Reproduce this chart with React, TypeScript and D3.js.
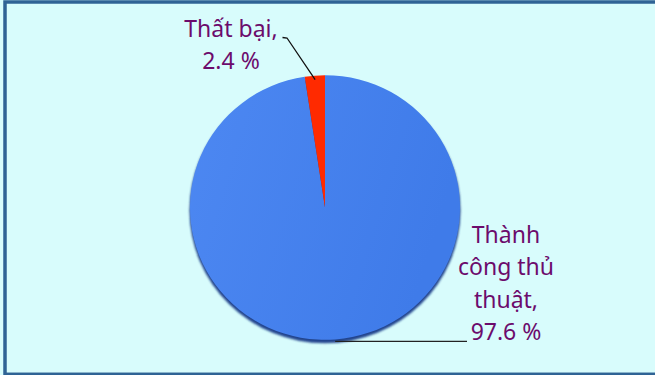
import React from "react";
import * as d3 from "d3";

const categories = ["Thành công thủ thuật", "Thất bại"];
const values = [97.6, 2.4];
const labelLines = [
  ["Thành", "công thủ", "thuật,", "97.6 %"],
  ["Thất bại,", "2.4 %"],
];
const colors = ["#4780ee", "#ff2a00"];

const W = 655;
const H = 375;

export default function App() {
  const cx = 325;
  const cy = 207.5;
  const r = 135;
  const sy = 0.98;
  const data = categories.map((c, i) => ({ c, v: values[i], i }));
  const pie = d3.pie<any>().sort(null).value((d: any) => d.v);
  const arcs = pie(data);
  const arc = d3.arc<any>().innerRadius(0).outerRadius(r);
  const pt = (a: any, rr: number) => {
    const m = (a.startAngle + a.endAngle) / 2;
    return [cx + rr * Math.sin(m), cy - rr * sy * Math.cos(m)];
  };
  const font = "'Noto Sans', sans-serif";
  const textColor = "#6c0b6c";
  const fs = 23;

  const aSuccess = arcs[0];
  const aFail = arcs[1];
  const pS = pt(aSuccess, r);
  const pF = pt(aFail, r * 0.97);

  return (
    <svg
      width={W}
      height={H}
      style={{ position: "fixed", left: 0, top: 0, display: "block" }}
    >
      <defs>
        <linearGradient id="blueGrad" x1="0" y1="0" x2="1" y2="0.3">
          <stop offset="0" stopColor="#4d88f2" />
          <stop offset="1" stopColor="#3f7be9" />
        </linearGradient>
        <filter id="blur" x="-10%" y="-10%" width="120%" height="120%">
          <feGaussianBlur stdDeviation="1.2" />
        </filter>
      </defs>
      <rect x={0} y={0} width={W} height={H} fill="#d8fcfc" />
      <rect
        x={5}
        y={2}
        width={W + 20}
        height={372.3}
        fill="none"
        stroke="#2f6395"
        strokeWidth={3.5}
      />
      <g transform={`translate(${cx},${cy}) scale(1,${sy})`}>
        <circle cx={0} cy={3} r={r + 0.5} fill="#24458e" filter="url(#blur)" />
        {arcs.map((a: any, i: number) => (
          <path
            key={i}
            d={arc(a) as string}
            fill={i === 0 ? "url(#blueGrad)" : colors[i]}
          />
        ))}
      </g>
      {/* leader lines */}
      <polyline
        points={`282.5,37.5 287,38 ${pF[0]},${pF[1]}`}
        fill="none"
        stroke="#111"
        strokeWidth={1.3}
      />
      <line
        x1={pS[0]}
        y1={pS[1] + 2}
        x2={467}
        y2={pS[1] + 2}
        stroke="#222"
        strokeWidth={1.3}
      />
      {/* labels */}
      <text fontFamily={font} fontSize={fs} fill={textColor} textAnchor="middle">
        {labelLines[1].map((t, i) => (
          <tspan key={i} x={231} y={37 + i * 31.5}>
            {t}
          </tspan>
        ))}
      </text>
      <text fontFamily={font} fontSize={fs} fill={textColor} textAnchor="middle">
        {labelLines[0].map((t, i) => (
          <tspan key={i} x={506} y={243 + i * 32.3}>
            {t}
          </tspan>
        ))}
      </text>
    </svg>
  );
}
